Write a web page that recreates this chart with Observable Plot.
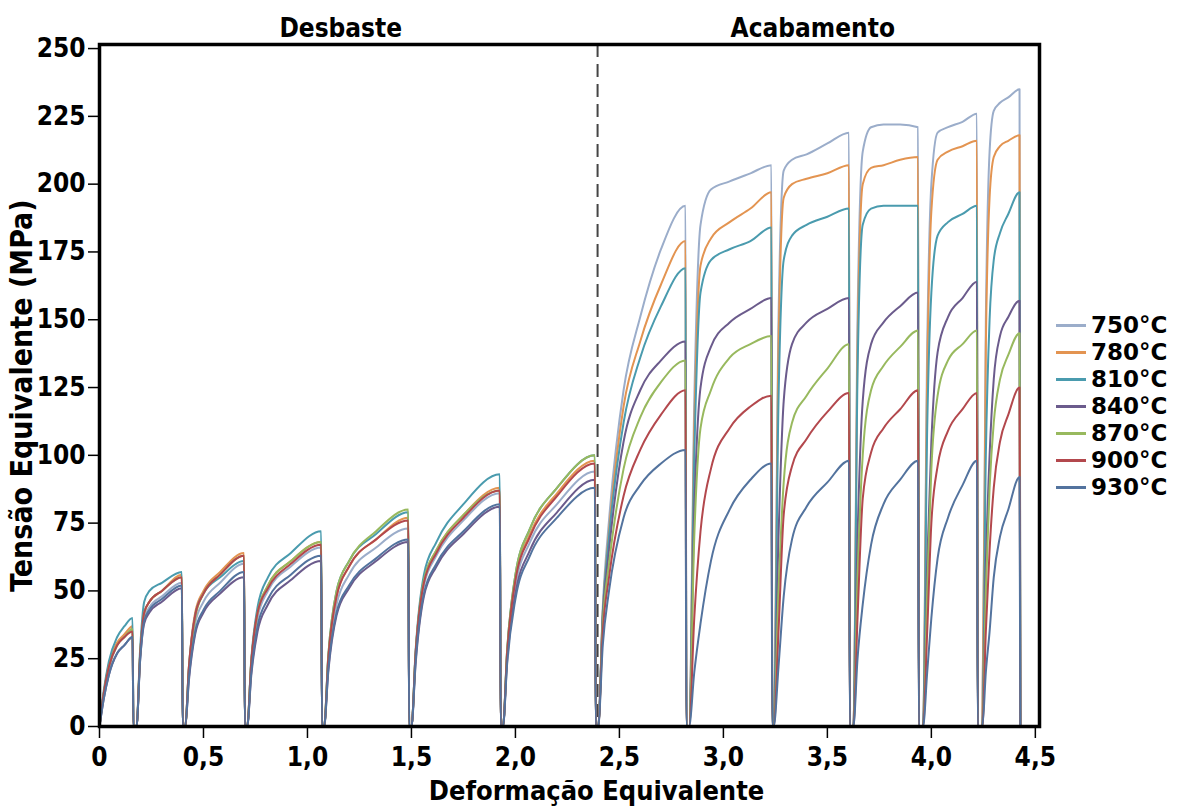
<!DOCTYPE html>
<html><head><meta charset="utf-8">
<script src="https://cdn.jsdelivr.net/npm/d3@7"></script>
<script src="https://cdn.jsdelivr.net/npm/@observablehq/plot@0.6"></script>
<style>
body{margin:0;background:#fff;}
#wrap{position:relative;width:1187px;height:807px;font-family:"DejaVu Sans",sans-serif;font-weight:bold;color:#000;}
#legend{position:absolute;left:1056px;top:312px;}
.item{display:flex;align-items:center;height:27px;font-size:23px;line-height:27px;}
.sw{width:30px;height:3px;margin-right:5px;}
</style></head><body><div id="wrap"><div id="chart"></div><div id="legend"></div></div>
<script>
const series = ["750°C","780°C","810°C","840°C","870°C","900°C","930°C"];
const colors = ["#9badca","#e39451","#4a9bae","#6b5b8c","#98b95e","#b3484d","#53739e"];
const phaseNames = ["Desbaste","Acabamento"];
const phaseCenters = [1.16, 3.43];
const dashStrain = [2.395];
const xTicks = [0,0.5,1,1.5,2,2.5,3,3.5,4,4.5];
const yTicks = [0,25,50,75,100,125,150,175,200,225,250];
const xTitle = ["Deformação Equivalente"];
const yTitle = ["Tensão Equivalente (MPa)"];

const strain = [
  0,0.02,0.045,0.085,0.12,0.159,0.163,
  0.178,0.195,0.215,0.24,0.30,0.396,0.40,
  0.412,0.43,0.46,0.50,0.58,0.695,0.699,
  0.71,0.73,0.76,0.81,0.92,1.066,1.07,
  1.08,1.10,1.14,1.20,1.33,1.485,1.489,
  1.50,1.52,1.56,1.62,1.75,1.925,1.929,
  1.94,1.96,2.00,2.07,2.20,2.382,2.386,
  2.398,2.42,2.45,2.52,2.60,2.70,2.818,2.822,
  2.835,2.86,2.89,2.94,3.03,3.13,3.231,3.235,
  3.242,3.265,3.29,3.33,3.40,3.50,3.604,3.608,
  3.625,3.645,3.67,3.71,3.77,3.85,3.936,3.94,
  3.96,3.98,4.00,4.03,4.08,4.15,4.219,4.223,
  4.245,4.262,4.28,4.30,4.33,4.37,4.424,4.428
];

const s750 = [
  0,11,21,30,33,36,0, 0,25,40,44,48,53,0, 0,20,38,46,53,60,0, 0,22,40,50,59,66,0,
  0,23,45,56,66,73,0, 0,26,52,63,76,86,0, 0,26,52,68,82,94,0,
  0,44,76,124,151,176,192,0, 0,120,185,198,201,204,207,0, 0,150,205,209,211,215,219,0,
  0,150,212,221,222,222,221,0, 0,140,200,219,221,223,226,0, 0,150,212,227,230,232,235,0
];
const s780 = [
  0,12,23,31,34,37,0, 0,26,42,46,50,56,0, 0,22,42,50,57,64,0, 0,24,42,52,61,68,0,
  0,25,48,59,69,77,0, 0,27,54,65,78,88,0, 0,27,55,71,86,98,0,
  0,42,72,118,142,163,179,0, 0,110,170,180,186,191,197,0, 0,140,195,200,202,204,207,0,
  0,140,200,206,207,209,210,0, 0,130,190,209,212,214,216,0, 0,140,195,210,214,216,218,0
];
const s810 = [
  0,13,24,33,37,40,0, 0,28,46,50,53,57,0, 0,22,41,49,55,61,0, 0,25,44,55,64,72,0,
  0,26,50,61,71,79,0, 0,28,56,68,82,93,0, 0,28,56,73,88,100,0,
  0,42,70,112,136,155,169,0, 0,100,160,172,176,179,184,0, 0,120,172,181,185,188,191,0,
  0,130,185,191,192,192,192,0, 0,110,160,181,186,189,192,0, 0,100,150,172,182,189,197,0
];
const s840 = [
  0,10,19,27,30,33,0, 0,24,38,42,46,51,0, 0,17,34,42,49,55,0, 0,19,35,45,54,61,0,
  0,20,41,51,61,68,0, 0,23,48,59,71,81,0, 0,24,49,65,79,91,0,
  0,40,65,105,124,135,142,0, 0,80,125,140,149,154,158,0, 0,70,120,141,149,154,158,0,
  0,70,120,141,149,155,160,0, 0,60,105,138,151,158,164,0, 0,60,100,128,144,151,157,0
];
const s870 = [
  0,12,22,30,33,36,0, 0,26,42,46,50,55,0, 0,21,40,49,56,63,0, 0,24,42,52,61,68,0,
  0,26,50,61,72,80,0, 0,27,54,65,78,87,0, 0,28,56,73,88,100,0,
  0,38,60,95,114,127,135,0, 0,70,110,124,136,141,144,0, 0,50,90,112,122,132,141,0,
  0,55,100,124,133,140,146,0, 0,50,95,122,135,141,146,0, 0,50,88,112,128,137,145,0
];
const s900 = [
  0,12,22,30,33,35,0, 0,26,42,46,50,55,0, 0,22,41,49,56,63,0, 0,24,42,51,60,67,0,
  0,25,48,59,69,76,0, 0,27,53,64,77,87,0, 0,27,54,70,85,97,0,
  0,35,55,85,102,115,124,0, 0,40,72,95,110,118,122,0, 0,35,78,96,106,116,123,0,
  0,40,84,101,110,117,124,0, 0,35,75,96,109,117,123,0, 0,35,65,88,105,115,125,0
];
const s930 = [
  0,10,19,27,30,33,0, 0,24,39,43,47,52,0, 0,18,35,43,50,57,0, 0,20,37,47,56,63,0,
  0,21,42,52,62,69,0, 0,24,49,60,72,82,0, 0,23,47,63,77,88,0,
  0,30,50,77,89,97,102,0, 0,20,38,61,80,91,97,0, 0,22,48,69,81,90,98,0,
  0,25,45,67,82,91,98,0, 0,20,40,62,77,89,98,0, 0,20,35,55,70,80,92,0
];
const stressBySeries = [s750,s780,s810,s840,s870,s900,s930];

const data = [];
series.forEach((name, i) => {
  stressBySeries[i].forEach((v, j) => data.push({temp: name, strain: strain[j], stress: v}));
});

const font = '"DejaVu Sans Condensed","DejaVu Sans",sans-serif';
const fmtX = d => d === 0 ? "0" : d.toFixed(1).replace(".", ",");

const chart = Plot.plot({
  width: 1187, height: 807,
  marginLeft: 99, marginRight: 148, marginTop: 44, marginBottom: 81,
  style: {fontFamily: font, fontWeight: "bold", fontSize: "26px", color: "#000", background: "transparent"},
  x: {domain: [0, 4.52]},
  y: {domain: [0, 251.5]},
  color: {domain: series, range: colors},
  marks: [
    Plot.ruleX(dashStrain, {stroke: "#444", strokeWidth: 2, strokeDasharray: "13,7"}),
    Plot.line(data, {x: "strain", y: "stress", z: "temp", stroke: "temp", strokeWidth: 2, curve: "monotone-x"}),
    Plot.frame({stroke: "#000", strokeWidth: 3.5}),
    Plot.axisX({ticks: xTicks, tickFormat: fmtX, tickSize: 12, tickPadding: 9, strokeWidth: 1.5, label: null}),
    Plot.axisY({ticks: yTicks, tickFormat: d3.format("d"), tickSize: 11, tickPadding: 3, strokeWidth: 1.5, label: null}),
    Plot.text(xTitle, {text: d => d, frameAnchor: "bottom", lineAnchor: "middle", dx: 27, dy: 65, fontSize: 27, fontWeight: "bold"}),
    Plot.text(yTitle, {text: d => d, frameAnchor: "left", textAnchor: "middle", lineAnchor: "top", rotate: -90, dx: -89, dy: 10, fontSize: 30, fontWeight: "bold"}),
    Plot.text(phaseNames, {x: phaseCenters, text: d => d, frameAnchor: "top", lineAnchor: "bottom", dy: -8, fontSize: 26, fontWeight: "bold"})
  ]
});
document.getElementById("chart").appendChild(chart);

const legend = document.getElementById("legend");
series.forEach((name, i) => {
  const row = document.createElement("div");
  row.className = "item";
  const sw = document.createElement("span");
  sw.className = "sw";
  sw.style.background = colors[i];
  const t = document.createElement("span");
  t.textContent = name;
  row.appendChild(sw); row.appendChild(t);
  legend.appendChild(row);
});
</script></body></html>
